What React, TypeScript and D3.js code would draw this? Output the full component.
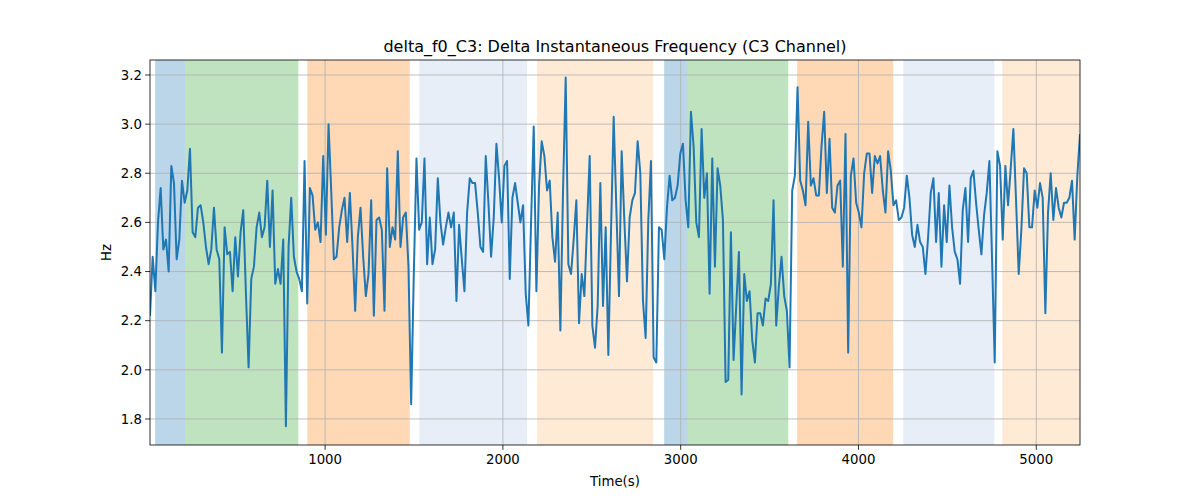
import React from 'react';
import * as d3 from 'd3';

const seg1 = [2.22,2.46,2.32,2.60,2.74,2.49,2.53,2.40,2.83,2.76,2.45,2.53,2.77,2.68,2.73,2.90,2.56,2.54,2.66,2.67,2.60,2.50,2.43,2.49,2.66,2.49,2.45,2.07,2.58,2.47,2.48,2.32,2.54,2.38,2.56,2.65,2.31,2.01,2.37,2.42,2.58,2.64,2.54,2.58,2.77,2.50,2.73,2.35,2.41,2.35,2.53,1.77,2.50,2.70,2.46,2.40,2.37,2.32,2.85,2.27];
const seg2 = [2.74,2.71,2.57,2.60,2.52,2.87,2.55,3.00,2.73,2.45,2.46,2.58,2.65,2.70,2.52,2.72,2.50,2.24,2.54,2.66,2.46,2.30,2.39,2.69,2.22,2.61,2.62,2.57,2.24,2.82,2.50,2.58,2.53,2.89,2.50,2.62,2.64,2.42,1.86,2.39,2.86,2.57,2.60,2.86,2.43,2.62,2.43,2.49,2.78,2.60,2.51,2.58,2.64,2.58,2.64,2.28,2.59];
const seg3 = [2.45,2.32,2.64,2.78,2.76,2.76,2.64,2.50,2.48,2.87,2.68,2.46,2.62,2.92,2.78,2.60,2.83,2.85,2.37,2.70,2.76,2.68,2.60,2.67,2.31,2.18,2.60,2.99,2.32,2.75,2.93,2.87,2.73,2.77,2.54,2.44,2.64,2.16,2.73,3.19,2.43,2.39,2.53,2.69,2.19,2.39,2.30,2.59,2.87,2.18,2.09,2.26,2.76,2.26,2.58,2.06,2.56,3.03];
const seg4 = [2.66,2.30,2.89,2.61,2.36,2.62,2.69,2.72,2.93,2.80,2.28,2.13,2.61,2.85,2.05,2.03,2.58,2.57,2.45,2.66,2.79,2.69,2.70,2.75,2.88,2.92,2.69,2.58,3.05,2.91,2.60,2.54,2.98,2.70,2.80,2.31,2.86,2.42,2.82,2.75,2.61,1.95,1.96,2.56,2.04,2.26,2.48,1.90,2.39,2.28,2.32,2.12,2.03,2.23,2.23,2.18,2.29,2.28];
const seg5 = [2.35,2.69,2.18,2.34,2.46,2.30,2.24,2.01,2.73,2.79,3.15,2.77,2.73,2.67,3.01,2.75,2.78,2.71,2.71,2.91,3.05,2.72,2.94,2.66,2.64,2.75,2.77,2.42,2.96,2.07,2.79,2.86,2.68,2.64,2.58,2.80,2.88,2.88,2.72,2.87,2.84,2.87,2.73,2.64,2.89,2.81,2.67,2.69,2.61,2.62,2.66,2.79,2.70,2.55,2.50,2.59,2.52,2.50,2.39];
const seg6 = [2.54,2.72,2.78,2.52,2.72,2.42,2.67,2.52,2.75,2.58,2.48,2.45,2.35,2.65,2.74,2.52,2.78,2.81,2.68,2.57,2.47,2.63,2.72,2.85,2.45,2.03,2.89,2.83,2.53,2.83,2.67,2.82,2.98,2.69,2.39,2.57,2.82,2.80,2.58,2.58,2.73,2.66,2.76,2.70,2.23,2.64,2.80,2.61,2.74,2.66,2.62,2.68,2.68,2.70,2.77,2.53,2.79,2.96];
const values = [...seg1, ...seg2, ...seg3, ...seg4, ...seg5, ...seg6];
const tStart = 15;
const tEnd = 5246;

const spanStarts = [44, 213, 900, 1530, 2192, 2907, 3036, 3655, 4252, 4809];
const spanEnds = [213, 849, 1476, 2136, 2845, 3036, 3605, 4195, 4764, 5250];
const spanColors = ['#1f77b4', '#2ca02c', '#ff7f0e', '#aec7e8', '#ffbb78', '#1f77b4', '#2ca02c', '#ff7f0e', '#aec7e8', '#ffbb78'];

const xTicks = [1000, 2000, 3000, 4000, 5000];
const yTicks = [1.8, 2.0, 2.2, 2.4, 2.6, 2.8, 3.0, 3.2];

const W = 1200, H = 500;
const m = { left: 150, right: 1080, top: 60, bottom: 445 };

const App = () => {
  const step = (tEnd - tStart) / (values.length - 1);
  const pts = values.map((v, i) => [tStart + i * step, v] as [number, number]);
  const x = d3.scaleLinear().domain([tStart, tEnd]).range([m.left, m.right]);
  const y = d3.scaleLinear().domain([1.694, 3.261]).range([m.bottom, m.top]);
  const line = d3.line<[number, number]>().x(d => x(d[0])).y(d => y(d[1]));
  const font = 'DejaVu Sans, sans-serif';

  return (
    <svg width={W} height={H} style={{ position: 'absolute', left: 0, top: 0, background: '#fff' }} fontFamily={font}>
      <defs>
        <clipPath id="plot"><rect x={m.left} y={m.top} width={m.right - m.left} height={m.bottom - m.top} /></clipPath>
      </defs>
      <g clipPath="url(#plot)">
        {spanStarts.map((s, i) => (
          <rect key={i} x={x(s)} y={m.top} width={x(spanEnds[i]) - x(s)} height={m.bottom - m.top} fill={spanColors[i]} opacity={0.3} />
        ))}
      </g>
      {xTicks.map(t => (
        <line key={t} x1={x(t)} x2={x(t)} y1={m.top} y2={m.bottom} stroke="#b0b0b0" strokeWidth={0.8} />
      ))}
      {yTicks.map(t => (
        <line key={t} x1={m.left} x2={m.right} y1={y(t)} y2={y(t)} stroke="#b0b0b0" strokeWidth={0.8} />
      ))}
      <path d={line(pts) || ''} fill="none" stroke="#1f77b4" strokeWidth={2} clipPath="url(#plot)" strokeLinejoin="round" />
      <rect x={m.left} y={m.top} width={m.right - m.left} height={m.bottom - m.top} fill="none" stroke="#000" strokeWidth={0.8} />
      {xTicks.map(t => (
        <g key={t}>
          <line x1={x(t)} x2={x(t)} y1={m.bottom} y2={m.bottom + 4.9} stroke="#000" strokeWidth={0.8} />
          <text x={x(t)} y={m.bottom + 19} fontSize={13.3} textAnchor="middle">{t}</text>
        </g>
      ))}
      {yTicks.map(t => (
        <g key={t}>
          <line x1={m.left - 4.9} x2={m.left} y1={y(t)} y2={y(t)} stroke="#000" strokeWidth={0.8} />
          <text x={m.left - 8} y={y(t) + 4.7} fontSize={13.3} textAnchor="end">{t.toFixed(1)}</text>
        </g>
      ))}
      <text x={(m.left + m.right) / 2} y={486} fontSize={13.3} textAnchor="middle">Time(s)</text>
      <text transform={`translate(111,${(m.top + m.bottom) / 2}) rotate(-90)`} fontSize={13.3} textAnchor="middle">Hz</text>
      <text x={(m.left + m.right) / 2} y={52} fontSize={16} textAnchor="middle">delta_f0_C3: Delta Instantaneous Frequency (C3 Channel)</text>
    </svg>
  );
};

export default App;
